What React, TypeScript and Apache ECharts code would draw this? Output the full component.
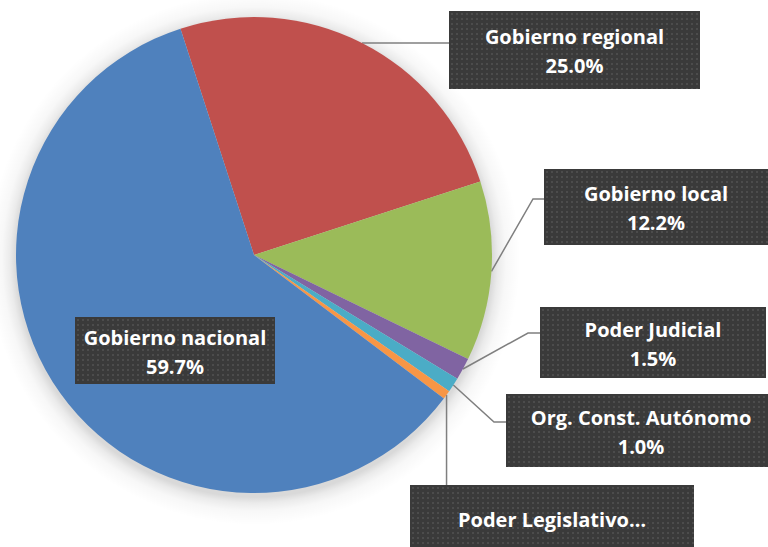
import React, { useEffect, useRef } from 'react';
import * as echarts from 'echarts';

const categories = [
  'Gobierno regional',
  'Gobierno local',
  'Poder Judicial',
  'Org. Const. Autónomo',
  'Poder Legislativo…',
  'Gobierno nacional',
];
const shares = [25.0, 12.2, 1.5, 1.0, 0.6, 59.7];
const colors = ['#C0504D', '#9BBB59', '#8064A2', '#4BACC6', '#F79646', '#4F81BD'];
const showPercent = [true, true, true, true, false, true];

// label box layout: [left, top, width, height]
const boxes: number[][] = [
  [449, 11, 251, 78],
  [544, 169, 224, 76],
  [540, 307, 226, 71],
  [506, 394, 270, 73],
  [410, 485, 284, 80],
  [75, 317, 200, 67],
];
// leader-line elbows
const elbows: (number[] | null)[] = [null, [533, 199], [528, 333], [494, 422], null, null];

export default function App() {
  const ref = useRef<HTMLDivElement>(null);
  useEffect(() => {
    document.body.style.margin = '0';
    const chart = echarts.init(ref.current!, undefined, { renderer: 'svg' });
    const dots = (w: number, h: number) => {
      const c = document.createElement('canvas');
      c.width = w;
      c.height = h;
      const g = c.getContext('2d')!;
      g.fillStyle = '#3a3a3a';
      g.fillRect(0, 0, w, h);
      g.fillStyle = '#4c4c4c';
      for (let y = 2; y < h; y += 5) for (let x = 2; x < w; x += 5) g.fillRect(x, y, 2, 2);
      return c.toDataURL();
    };
    const LINE = 29;
    const data = categories.map((name, i) => {
      const [, , w, h] = boxes[i];
      const lines = showPercent[i] ? 2 : 1;
      const top = lines === 2 ? (h - 2 * LINE) / 2 + 1 : 20;
      return {
        name,
        value: shares[i],
        itemStyle: { color: colors[i] },
        label: {
          position: i === 5 ? 'inside' : 'outside',
          formatter: showPercent[i] ? `${name}\n${shares[i].toFixed(1)}%` : name,
          width: w,
          overflow: 'none',
          padding: [top, 0, h - lines * LINE - top, 0],
          backgroundColor: { image: dots(w, h) },
        },
        labelLine: { show: i !== 5 },
      };
    });
    const R = 238;
    const HALO = 266;
    const halo = new echarts.graphic.RadialGradient(0.5, 0.5, 0.5, [
      { offset: 0, color: 'rgba(0,0,0,0.16)' },
      { offset: R / HALO, color: 'rgba(0,0,0,0.15)' },
      { offset: (R + 6) / HALO, color: 'rgba(0,0,0,0.08)' },
      { offset: (R + 14) / HALO, color: 'rgba(0,0,0,0.03)' },
      { offset: 1, color: 'rgba(0,0,0,0)' },
    ]);
    chart.setOption({
      animation: false,
      backgroundColor: '#ffffff',
      graphic: [
        {
          type: 'circle',
          silent: true,
          z: 0,
          shape: { cx: 254, cy: 259, r: HALO },
          style: { fill: halo },
        },
      ],
      series: [
        {
          type: 'pie',
          z: 2,
          center: [254, 255],
          radius: R,
          startAngle: 108,
          clockwise: true,
          avoidLabelOverlap: false,
          data,
          label: {
            show: true,
            color: '#ffffff',
            fontFamily: 'Open Sans',
            fontWeight: 'bold',
            fontSize: 20,
            lineHeight: LINE,
            align: 'center',
            shadowBlur: 5,
            shadowColor: 'rgba(0,0,0,0.4)',
            shadowOffsetX: 3,
            shadowOffsetY: 3,
          },
          labelLine: {
            show: true,
            length: 10,
            length2: 10,
            lineStyle: { color: '#7f7f7f', width: 1.5 },
          },
          labelLayout: (p: any) => {
            const i = p.dataIndex;
            const [l, t, w] = boxes[i];
            const res: any = { x: l + w / 2, y: t, align: 'center', verticalAlign: 'top' };
            const s = p.labelLinePoints && p.labelLinePoints[0];
            if (s && i !== 5) {
              const e = elbows[i];
              if (e) res.labelLinePoints = [s, e, [l, e[1]]];
              else if (i === 4) res.labelLinePoints = [s, [s[0], s[1] + 1], [s[0], t]];
              else res.labelLinePoints = [s, [(s[0] + l) / 2, s[1]], [l, s[1]]];
            }
            return res;
          },
        },
      ],
    });
    return () => chart.dispose();
  }, []);
  return <div ref={ref} style={{ width: 768, height: 547 }} />;
}
